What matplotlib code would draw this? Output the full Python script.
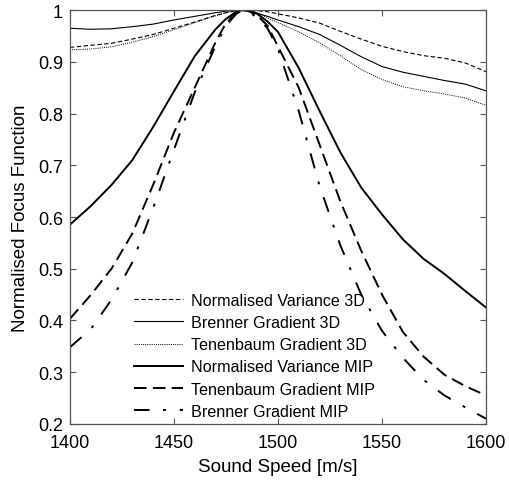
import matplotlib
matplotlib.use('Agg')
import matplotlib.pyplot as plt

plt.rcParams['font.family'] = ['Liberation Sans', 'DejaVu Sans']

# sound speed grid [m/s]
speed = [1400, 1410, 1420, 1430, 1440, 1450, 1460, 1470, 1475, 1480, 1483, 1486,
         1490, 1495, 1500, 1510, 1520, 1530, 1540, 1550, 1560, 1570, 1580, 1590, 1600]

# normalised focus function values
nv_3d = [0.928, 0.932, 0.936, 0.944, 0.953, 0.965, 0.977, 0.990, 0.995, 0.999, 1.000, 1.000,
         0.999, 0.997, 0.993, 0.985, 0.975, 0.959, 0.944, 0.930, 0.920, 0.912, 0.907, 0.898, 0.881]
brenner_3d = [0.965, 0.963, 0.964, 0.968, 0.973, 0.981, 0.988, 0.995, 0.998, 1.000, 1.000, 1.000,
              0.994, 0.988, 0.981, 0.968, 0.953, 0.932, 0.910, 0.891, 0.880, 0.872, 0.864, 0.857, 0.844]
tenen_3d = [0.923, 0.925, 0.929, 0.938, 0.949, 0.962, 0.976, 0.989, 0.995, 0.999, 1.000, 1.000,
            0.995, 0.985, 0.976, 0.958, 0.937, 0.912, 0.885, 0.866, 0.852, 0.844, 0.838, 0.830, 0.816]
nv_mip = [0.585, 0.621, 0.662, 0.710, 0.774, 0.843, 0.911, 0.963, 0.983, 0.997, 1.000, 0.999,
          0.993, 0.978, 0.958, 0.888, 0.805, 0.725, 0.657, 0.605, 0.557, 0.519, 0.490, 0.457, 0.425]
tenen_mip = [0.403, 0.449, 0.500, 0.568, 0.662, 0.763, 0.850, 0.938, 0.975, 0.995, 1.000, 0.998,
             0.990, 0.970, 0.930, 0.850, 0.740, 0.630, 0.535, 0.450, 0.378, 0.330, 0.295, 0.273, 0.255]
brenner_mip = [0.348, 0.383, 0.440, 0.512, 0.617, 0.730, 0.841, 0.931, 0.970, 0.993, 1.000, 0.997,
               0.985, 0.965, 0.925, 0.805, 0.660, 0.545, 0.450, 0.380, 0.328, 0.285, 0.255, 0.232, 0.210]

fig = plt.figure(figsize=(5.1, 4.85), dpi=100)
ax = fig.add_axes([0.137, 0.124, 0.816, 0.853])

ax.plot(speed, nv_3d, color='black', lw=0.8, dashes=(4, 2.2), label='Normalised Variance 3D')
ax.plot(speed, brenner_3d, color='black', lw=0.8, label='Brenner Gradient 3D')
ax.plot(speed, tenen_3d, color='black', lw=0.7, dashes=(1, 1.2), label='Tenenbaum Gradient 3D')
ax.plot(speed, nv_mip, color='black', lw=1.4, label='Normalised Variance MIP')
ax.plot(speed, tenen_mip, color='black', lw=1.4, dashes=(6.5, 3.2), label='Tenenbaum Gradient MIP')
ax.plot(speed, brenner_mip, color='black', lw=1.4, dashes=(8, 7, 1.5, 7), label='Brenner Gradient MIP')

ax.set_xlim(1400, 1600)
ax.set_ylim(0.2, 1.0)
ax.set_xticks([1400, 1450, 1500, 1550, 1600])
ax.set_yticks([0.2, 0.3, 0.4, 0.5, 0.6, 0.7, 0.8, 0.9, 1.0])
ax.set_yticklabels(['0.2', '0.3', '0.4', '0.5', '0.6', '0.7', '0.8', '0.9', '1'])
ax.tick_params(direction='in', top=True, right=True, length=4, width=0.8,
               color='#555555', labelsize=13)
ax.tick_params(axis='x', pad=7)
ax.tick_params(axis='y', pad=5)
for s in ax.spines.values():
    s.set_color('#555555')
    s.set_linewidth(0.9)

ax.set_xlabel('Sound Speed [m/s]', fontsize=13.5, labelpad=5)
ax.set_ylabel('Normalised Focus Function', fontsize=13.5, labelpad=6)

ax.legend(loc='lower left', bbox_to_anchor=(0.155, 0.012), frameon=False,
          fontsize=11.6, handlelength=3.0, handletextpad=0.5, labelspacing=0.45,
          borderpad=0, borderaxespad=0)

fig.savefig('out.png', dpi=100)
